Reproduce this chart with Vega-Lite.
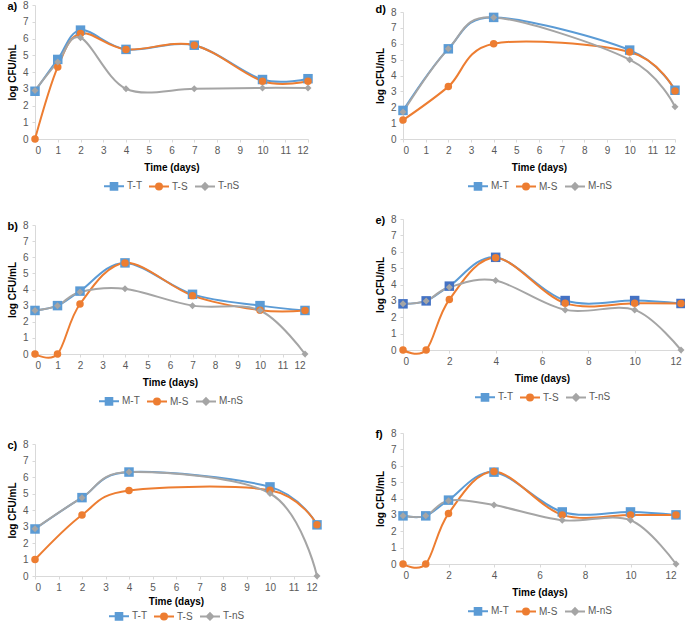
{
  "$schema": "https://vega.github.io/schema/vega-lite/v6.json",
  "background": "white",
  "padding": {"left": 7, "top": 0, "right": 0, "bottom": 0},
  "datasets": {
    "cfu": [
      {"panel": "a", "series": "T-T", "day": 0, "cfu": 2.85},
      {"panel": "a", "series": "T-T", "day": 1, "cfu": 4.75},
      {"panel": "a", "series": "T-T", "day": 2, "cfu": 6.5},
      {"panel": "a", "series": "T-T", "day": 4, "cfu": 5.35},
      {"panel": "a", "series": "T-T", "day": 7, "cfu": 5.6},
      {"panel": "a", "series": "T-T", "day": 10, "cfu": 3.55},
      {"panel": "a", "series": "T-T", "day": 12, "cfu": 3.6},
      {"panel": "a", "series": "T-S", "day": 0, "cfu": 0},
      {"panel": "a", "series": "T-S", "day": 1, "cfu": 4.3},
      {"panel": "a", "series": "T-S", "day": 2, "cfu": 6.3},
      {"panel": "a", "series": "T-S", "day": 4, "cfu": 5.35},
      {"panel": "a", "series": "T-S", "day": 7, "cfu": 5.6},
      {"panel": "a", "series": "T-S", "day": 10, "cfu": 3.45},
      {"panel": "a", "series": "T-S", "day": 12, "cfu": 3.45},
      {"panel": "a", "series": "T-nS", "day": 0, "cfu": 2.9},
      {"panel": "a", "series": "T-nS", "day": 1, "cfu": 4.6},
      {"panel": "a", "series": "T-nS", "day": 2, "cfu": 6.05},
      {"panel": "a", "series": "T-nS", "day": 4, "cfu": 3.0},
      {"panel": "a", "series": "T-nS", "day": 7, "cfu": 3.0},
      {"panel": "a", "series": "T-nS", "day": 10, "cfu": 3.05},
      {"panel": "a", "series": "T-nS", "day": 12, "cfu": 3.05},

      {"panel": "b", "series": "M-T", "day": 0, "cfu": 2.7},
      {"panel": "b", "series": "M-T", "day": 1, "cfu": 3.0},
      {"panel": "b", "series": "M-T", "day": 2, "cfu": 3.9},
      {"panel": "b", "series": "M-T", "day": 4, "cfu": 5.65},
      {"panel": "b", "series": "M-T", "day": 7, "cfu": 3.7},
      {"panel": "b", "series": "M-T", "day": 10, "cfu": 3.0},
      {"panel": "b", "series": "M-T", "day": 12, "cfu": 2.7},
      {"panel": "b", "series": "M-S", "day": 0, "cfu": 0},
      {"panel": "b", "series": "M-S", "day": 1, "cfu": 0},
      {"panel": "b", "series": "M-S", "day": 2, "cfu": 3.1},
      {"panel": "b", "series": "M-S", "day": 4, "cfu": 5.65},
      {"panel": "b", "series": "M-S", "day": 7, "cfu": 3.62},
      {"panel": "b", "series": "M-S", "day": 10, "cfu": 2.72},
      {"panel": "b", "series": "M-S", "day": 12, "cfu": 2.7},
      {"panel": "b", "series": "M-nS", "day": 0, "cfu": 2.7},
      {"panel": "b", "series": "M-nS", "day": 1, "cfu": 3.0},
      {"panel": "b", "series": "M-nS", "day": 2, "cfu": 3.85},
      {"panel": "b", "series": "M-nS", "day": 4, "cfu": 4.05},
      {"panel": "b", "series": "M-nS", "day": 7, "cfu": 3.0},
      {"panel": "b", "series": "M-nS", "day": 10, "cfu": 2.7},
      {"panel": "b", "series": "M-nS", "day": 12, "cfu": 0},

      {"panel": "c", "series": "T-T", "day": 0, "cfu": 2.85},
      {"panel": "c", "series": "T-T", "day": 2, "cfu": 4.75},
      {"panel": "c", "series": "T-T", "day": 4, "cfu": 6.3},
      {"panel": "c", "series": "T-T", "day": 10, "cfu": 5.4},
      {"panel": "c", "series": "T-T", "day": 12, "cfu": 3.1},
      {"panel": "c", "series": "T-S", "day": 0, "cfu": 1.0},
      {"panel": "c", "series": "T-S", "day": 2, "cfu": 3.7},
      {"panel": "c", "series": "T-S", "day": 4, "cfu": 5.18},
      {"panel": "c", "series": "T-S", "day": 10, "cfu": 5.2},
      {"panel": "c", "series": "T-S", "day": 12, "cfu": 3.1},
      {"panel": "c", "series": "T-nS", "day": 0, "cfu": 2.87},
      {"panel": "c", "series": "T-nS", "day": 2, "cfu": 4.75},
      {"panel": "c", "series": "T-nS", "day": 4, "cfu": 6.3},
      {"panel": "c", "series": "T-nS", "day": 10, "cfu": 5.0},
      {"panel": "c", "series": "T-nS", "day": 12, "cfu": 0},

      {"panel": "d", "series": "M-T", "day": 0, "cfu": 1.8},
      {"panel": "d", "series": "M-T", "day": 2, "cfu": 5.68},
      {"panel": "d", "series": "M-T", "day": 4, "cfu": 7.66},
      {"panel": "d", "series": "M-T", "day": 10, "cfu": 5.6},
      {"panel": "d", "series": "M-T", "day": 12, "cfu": 3.07},
      {"panel": "d", "series": "M-S", "day": 0, "cfu": 1.19},
      {"panel": "d", "series": "M-S", "day": 2, "cfu": 3.3},
      {"panel": "d", "series": "M-S", "day": 4, "cfu": 6.0},
      {"panel": "d", "series": "M-S", "day": 10, "cfu": 5.48},
      {"panel": "d", "series": "M-S", "day": 12, "cfu": 3.03},
      {"panel": "d", "series": "M-nS", "day": 0, "cfu": 1.7},
      {"panel": "d", "series": "M-nS", "day": 2, "cfu": 5.68},
      {"panel": "d", "series": "M-nS", "day": 4, "cfu": 7.66},
      {"panel": "d", "series": "M-nS", "day": 10, "cfu": 5.0},
      {"panel": "d", "series": "M-nS", "day": 12, "cfu": 2.03},

      {"panel": "e", "series": "T-T", "day": 0, "cfu": 2.82},
      {"panel": "e", "series": "T-T", "day": 1, "cfu": 3.0},
      {"panel": "e", "series": "T-T", "day": 2, "cfu": 3.9},
      {"panel": "e", "series": "T-T", "day": 4, "cfu": 5.66},
      {"panel": "e", "series": "T-T", "day": 7, "cfu": 3.02},
      {"panel": "e", "series": "T-T", "day": 10, "cfu": 3.02},
      {"panel": "e", "series": "T-T", "day": 12, "cfu": 2.84},
      {"panel": "e", "series": "T-S", "day": 0, "cfu": 0},
      {"panel": "e", "series": "T-S", "day": 1, "cfu": 0},
      {"panel": "e", "series": "T-S", "day": 2, "cfu": 3.08},
      {"panel": "e", "series": "T-S", "day": 4, "cfu": 5.63},
      {"panel": "e", "series": "T-S", "day": 7, "cfu": 2.86},
      {"panel": "e", "series": "T-S", "day": 10, "cfu": 2.86},
      {"panel": "e", "series": "T-S", "day": 12, "cfu": 2.84},
      {"panel": "e", "series": "T-nS", "day": 0, "cfu": 2.82},
      {"panel": "e", "series": "T-nS", "day": 1, "cfu": 3.0},
      {"panel": "e", "series": "T-nS", "day": 2, "cfu": 3.83},
      {"panel": "e", "series": "T-nS", "day": 4, "cfu": 4.24},
      {"panel": "e", "series": "T-nS", "day": 7, "cfu": 2.45},
      {"panel": "e", "series": "T-nS", "day": 10, "cfu": 2.45},
      {"panel": "e", "series": "T-nS", "day": 12, "cfu": 0},

      {"panel": "f", "series": "M-T", "day": 0, "cfu": 2.94},
      {"panel": "f", "series": "M-T", "day": 1, "cfu": 2.94},
      {"panel": "f", "series": "M-T", "day": 2, "cfu": 3.9},
      {"panel": "f", "series": "M-T", "day": 4, "cfu": 5.61},
      {"panel": "f", "series": "M-T", "day": 7, "cfu": 3.18},
      {"panel": "f", "series": "M-T", "day": 10, "cfu": 3.18},
      {"panel": "f", "series": "M-T", "day": 12, "cfu": 3.0},
      {"panel": "f", "series": "M-S", "day": 0, "cfu": 0},
      {"panel": "f", "series": "M-S", "day": 1, "cfu": 0},
      {"panel": "f", "series": "M-S", "day": 2, "cfu": 3.08},
      {"panel": "f", "series": "M-S", "day": 4, "cfu": 5.65},
      {"panel": "f", "series": "M-S", "day": 7, "cfu": 3.0},
      {"panel": "f", "series": "M-S", "day": 10, "cfu": 3.0},
      {"panel": "f", "series": "M-S", "day": 12, "cfu": 3.0},
      {"panel": "f", "series": "M-nS", "day": 0, "cfu": 2.94},
      {"panel": "f", "series": "M-nS", "day": 1, "cfu": 2.94},
      {"panel": "f", "series": "M-nS", "day": 2, "cfu": 3.87},
      {"panel": "f", "series": "M-nS", "day": 4, "cfu": 3.6},
      {"panel": "f", "series": "M-nS", "day": 7, "cfu": 2.67},
      {"panel": "f", "series": "M-nS", "day": 10, "cfu": 2.67},
      {"panel": "f", "series": "M-nS", "day": 12, "cfu": 0}
    ]
  },
  "hconcat": [
    {
      "spacing": 26,
      "resolve": {"scale": {"color": "independent"}, "legend": {"color": "independent"}},
      "vconcat": [
        {
          "width": 273, "height": 134,
          "title": {"text": "a)", "dy": 16},
          "data": {"name": "cfu"},
          "transform": [{"filter": "datum.panel === 'a'"}],
          "encoding": {
            "x": {"field": "day", "type": "quantitative", "title": "Time (days)", "scale": {"domain": [0, 12], "nice": false}, "axis": {"values": [0, 1, 2, 3, 4, 5, 6, 7, 8, 9, 10, 11, 12]}},
            "y": {"field": "cfu", "type": "quantitative", "title": "log CFU/mL", "scale": {"domain": [0, 8], "nice": false}, "axis": {"values": [0, 1, 2, 3, 4, 5, 6, 7, 8]}},
            "color": {"field": "series", "type": "nominal", "scale": {"domain": ["T-T", "T-S", "T-nS"], "range": ["#5B9BD5", "#ED7D31", "#A5A5A5"]},
              "legend": {"title": null, "encode": {"symbols": {"update": {
                "shape": {"signal": "slice(datum.value, 2) === 'T' ? 'M-1,0H1M-0.33,-0.33H0.33V0.33H-0.33Z' : slice(datum.value, 2) === 'S' ? 'M-1,0H1M0.3,0A0.3,0.3,0,1,1,-0.3,0A0.3,0.3,0,1,1,0.3,0Z' : 'M-1,0H1M0,-0.32L0.32,0L0,0.32L-0.32,0Z'"},
                "fill": {"signal": "slice(datum.value, 2) === 'T' ? '#5B9BD5' : slice(datum.value, 2) === 'S' ? '#ED7D31' : '#A5A5A5'"},
                "stroke": {"signal": "slice(datum.value, 2) === 'T' ? '#5B9BD5' : slice(datum.value, 2) === 'S' ? '#ED7D31' : '#A5A5A5'"},
                "strokeWidth": {"value": 2}, "size": {"value": 400}, "opacity": {"value": 1}}}}}}
          },
          "layer": [
            {"mark": {"type": "line", "interpolate": "cardinal", "strokeWidth": 2}},
            {"transform": [{"filter": "datum.series === 'T-T'"}], "mark": {"type": "point", "shape": "square", "size": 90, "filled": true, "opacity": 1}},
            {"transform": [{"filter": "datum.series === 'T-S'"}], "mark": {"type": "point", "shape": "circle", "size": 56, "filled": true, "opacity": 1}},
            {"transform": [{"filter": "datum.series === 'T-nS'"}], "mark": {"type": "point", "shape": "diamond", "size": 49, "filled": true, "opacity": 1}}
          ]
        },
        {
          "spacing": 30,
          "resolve": {"scale": {"color": "independent"}, "legend": {"color": "independent"}},
          "vconcat": [
            {
              "width": 270, "height": 129,
              "title": {"text": "b)", "dy": 16},
              "data": {"name": "cfu"},
              "transform": [{"filter": "datum.panel === 'b'"}],
              "encoding": {
                "x": {"field": "day", "type": "quantitative", "title": "Time (days)", "scale": {"domain": [0, 12], "nice": false}, "axis": {"values": [0, 1, 2, 3, 4, 5, 6, 7, 8, 9, 10, 11, 12]}},
                "y": {"field": "cfu", "type": "quantitative", "title": "log CFU/mL", "scale": {"domain": [0, 8], "nice": false}, "axis": {"values": [0, 1, 2, 3, 4, 5, 6, 7, 8]}},
                "color": {"field": "series", "type": "nominal", "scale": {"domain": ["M-T", "M-S", "M-nS"], "range": ["#5B9BD5", "#ED7D31", "#A5A5A5"]},
                  "legend": {"title": null, "encode": {"symbols": {"update": {
                    "shape": {"signal": "slice(datum.value, 2) === 'T' ? 'M-1,0H1M-0.33,-0.33H0.33V0.33H-0.33Z' : slice(datum.value, 2) === 'S' ? 'M-1,0H1M0.3,0A0.3,0.3,0,1,1,-0.3,0A0.3,0.3,0,1,1,0.3,0Z' : 'M-1,0H1M0,-0.32L0.32,0L0,0.32L-0.32,0Z'"},
                    "fill": {"signal": "slice(datum.value, 2) === 'T' ? '#5B9BD5' : slice(datum.value, 2) === 'S' ? '#ED7D31' : '#A5A5A5'"},
                    "stroke": {"signal": "slice(datum.value, 2) === 'T' ? '#5B9BD5' : slice(datum.value, 2) === 'S' ? '#ED7D31' : '#A5A5A5'"},
                    "strokeWidth": {"value": 2}, "size": {"value": 400}, "opacity": {"value": 1}}}}}}
              },
              "layer": [
                {"mark": {"type": "line", "interpolate": "cardinal", "strokeWidth": 2}},
                {"transform": [{"filter": "datum.series === 'M-T'"}], "mark": {"type": "point", "shape": "square", "size": 90, "filled": true, "opacity": 1}},
                {"transform": [{"filter": "datum.series === 'M-S'"}], "mark": {"type": "point", "shape": "circle", "size": 56, "filled": true, "opacity": 1}},
                {"transform": [{"filter": "datum.series === 'M-nS'"}], "mark": {"type": "point", "shape": "diamond", "size": 49, "filled": true, "opacity": 1}}
              ]
            },
            {
              "width": 282, "height": 132,
              "title": {"text": "c)", "dy": 16},
              "data": {"name": "cfu"},
              "transform": [{"filter": "datum.panel === 'c'"}],
              "encoding": {
                "x": {"field": "day", "type": "quantitative", "title": "Time (days)", "scale": {"domain": [0, 12], "nice": false}, "axis": {"values": [0, 1, 2, 3, 4, 5, 6, 7, 8, 9, 10, 11, 12], "titlePadding": 4}},
                "y": {"field": "cfu", "type": "quantitative", "title": "log CFU/mL", "scale": {"domain": [0, 8], "nice": false}, "axis": {"values": [0, 1, 2, 3, 4, 5, 6, 7, 8]}},
                "color": {"field": "series", "type": "nominal", "scale": {"domain": ["T-T", "T-S", "T-nS"], "range": ["#5B9BD5", "#ED7D31", "#A5A5A5"]},
                  "legend": {"title": null, "offset": -1, "encode": {"symbols": {"update": {
                    "shape": {"signal": "slice(datum.value, 2) === 'T' ? 'M-1,0H1M-0.33,-0.33H0.33V0.33H-0.33Z' : slice(datum.value, 2) === 'S' ? 'M-1,0H1M0.3,0A0.3,0.3,0,1,1,-0.3,0A0.3,0.3,0,1,1,0.3,0Z' : 'M-1,0H1M0,-0.32L0.32,0L0,0.32L-0.32,0Z'"},
                    "fill": {"signal": "slice(datum.value, 2) === 'T' ? '#5B9BD5' : slice(datum.value, 2) === 'S' ? '#ED7D31' : '#A5A5A5'"},
                    "stroke": {"signal": "slice(datum.value, 2) === 'T' ? '#5B9BD5' : slice(datum.value, 2) === 'S' ? '#ED7D31' : '#A5A5A5'"},
                    "strokeWidth": {"value": 2}, "size": {"value": 400}, "opacity": {"value": 1}}}}}}
              },
              "layer": [
                {"mark": {"type": "line", "interpolate": "cardinal", "strokeWidth": 2}},
                {"transform": [{"filter": "datum.series === 'T-T'"}], "mark": {"type": "point", "shape": "square", "size": 90, "filled": true, "opacity": 1}},
                {"transform": [{"filter": "datum.series === 'T-S'"}], "mark": {"type": "point", "shape": "circle", "size": 56, "filled": true, "opacity": 1}},
                {"transform": [{"filter": "datum.series === 'T-nS'"}], "mark": {"type": "point", "shape": "diamond", "size": 49, "filled": true, "opacity": 1}}
              ]
            }
          ]
        }
      ]
    },
    {
      "spacing": 20,
      "resolve": {"scale": {"color": "independent"}, "legend": {"color": "independent"}},
      "vconcat": [
        {
          "width": 272, "height": 134,
          "title": {"text": "d)", "dy": 14},
          "data": {"name": "cfu"},
          "transform": [{"filter": "datum.panel === 'd'"}],
          "encoding": {
            "x": {"field": "day", "type": "quantitative", "title": "Time (days)", "scale": {"domain": [0, 12], "nice": false}, "axis": {"values": [0, 1, 2, 3, 4, 5, 6, 7, 8, 9, 10, 11, 12]}},
            "y": {"field": "cfu", "type": "quantitative", "title": "log CFU/mL", "scale": {"domain": [0, 8], "nice": false, "range": [134, 7]}, "axis": {"values": [0, 1, 2, 3, 4, 5, 6, 7, 8]}},
            "color": {"field": "series", "type": "nominal", "scale": {"domain": ["M-T", "M-S", "M-nS"], "range": ["#5B9BD5", "#ED7D31", "#A5A5A5"]},
              "legend": {"title": null, "encode": {"symbols": {"update": {
                "shape": {"signal": "slice(datum.value, 2) === 'T' ? 'M-1,0H1M-0.33,-0.33H0.33V0.33H-0.33Z' : slice(datum.value, 2) === 'S' ? 'M-1,0H1M0.3,0A0.3,0.3,0,1,1,-0.3,0A0.3,0.3,0,1,1,0.3,0Z' : 'M-1,0H1M0,-0.32L0.32,0L0,0.32L-0.32,0Z'"},
                "fill": {"signal": "slice(datum.value, 2) === 'T' ? '#5B9BD5' : slice(datum.value, 2) === 'S' ? '#ED7D31' : '#A5A5A5'"},
                "stroke": {"signal": "slice(datum.value, 2) === 'T' ? '#5B9BD5' : slice(datum.value, 2) === 'S' ? '#ED7D31' : '#A5A5A5'"},
                "strokeWidth": {"value": 2}, "size": {"value": 400}, "opacity": {"value": 1}}}}}}
          },
          "layer": [
            {"mark": {"type": "line", "interpolate": "cardinal", "strokeWidth": 2}},
            {"transform": [{"filter": "datum.series === 'M-T'"}], "mark": {"type": "point", "shape": "square", "size": 90, "filled": true, "opacity": 1}},
            {"transform": [{"filter": "datum.series === 'M-S'"}], "mark": {"type": "point", "shape": "circle", "size": 56, "filled": true, "opacity": 1}},
            {"transform": [{"filter": "datum.series === 'M-nS'"}], "mark": {"type": "point", "shape": "diamond", "size": 49, "filled": true, "opacity": 1}}
          ]
        },
        {
          "spacing": 23,
          "resolve": {"scale": {"color": "independent"}, "legend": {"color": "independent"}},
          "vconcat": [
            {
              "width": 278, "height": 131,
              "title": {"text": "e)", "dy": 16},
              "data": {"name": "cfu"},
              "transform": [{"filter": "datum.panel === 'e'"}],
              "encoding": {
                "x": {"field": "day", "type": "quantitative", "title": "Time (days)", "scale": {"domain": [0, 12], "nice": false}, "axis": {"values": [0, 2, 4, 6, 8, 10, 12]}},
                "y": {"field": "cfu", "type": "quantitative", "title": "log CFU/mL", "scale": {"domain": [0, 8], "nice": false}, "axis": {"values": [0, 1, 2, 3, 4, 5, 6, 7, 8]}},
                "color": {"field": "series", "type": "nominal", "scale": {"domain": ["T-T", "T-S", "T-nS"], "range": ["#5B9BD5", "#ED7D31", "#A5A5A5"]},
                  "legend": {"title": null, "encode": {"symbols": {"update": {
                    "shape": {"signal": "slice(datum.value, 2) === 'T' ? 'M-1,0H1M-0.33,-0.33H0.33V0.33H-0.33Z' : slice(datum.value, 2) === 'S' ? 'M-1,0H1M0.3,0A0.3,0.3,0,1,1,-0.3,0A0.3,0.3,0,1,1,0.3,0Z' : 'M-1,0H1M0,-0.32L0.32,0L0,0.32L-0.32,0Z'"},
                    "fill": {"signal": "slice(datum.value, 2) === 'T' ? '#4472C4' : slice(datum.value, 2) === 'S' ? '#ED7D31' : '#A5A5A5'"},
                    "stroke": {"signal": "slice(datum.value, 2) === 'T' ? '#5B9BD5' : slice(datum.value, 2) === 'S' ? '#ED7D31' : '#A5A5A5'"},
                    "strokeWidth": {"value": 2}, "size": {"value": 400}, "opacity": {"value": 1}}}}}}
              },
              "layer": [
                {"mark": {"type": "line", "interpolate": "cardinal", "strokeWidth": 2}},
                {"transform": [{"filter": "datum.series === 'T-T'"}], "mark": {"type": "point", "shape": "square", "size": 90, "filled": true, "opacity": 1}, "encoding": {"color": {"value": "#4472C4"}}},
                {"transform": [{"filter": "datum.series === 'T-S'"}], "mark": {"type": "point", "shape": "circle", "size": 56, "filled": true, "opacity": 1}},
                {"transform": [{"filter": "datum.series === 'T-nS'"}], "mark": {"type": "point", "shape": "diamond", "size": 49, "filled": true, "opacity": 1}}
              ]
            },
            {
              "width": 273, "height": 131,
              "title": {"text": "f)", "dy": 16},
              "data": {"name": "cfu"},
              "transform": [{"filter": "datum.panel === 'f'"}],
              "encoding": {
                "x": {"field": "day", "type": "quantitative", "title": "Time (days)", "scale": {"domain": [0, 12], "nice": false}, "axis": {"values": [0, 2, 4, 6, 8, 10, 12]}},
                "y": {"field": "cfu", "type": "quantitative", "title": "log CFU/mL", "scale": {"domain": [0, 8], "nice": false}, "axis": {"values": [0, 1, 2, 3, 4, 5, 6, 7, 8]}},
                "color": {"field": "series", "type": "nominal", "scale": {"domain": ["M-T", "M-S", "M-nS"], "range": ["#5B9BD5", "#ED7D31", "#A5A5A5"]},
                  "legend": {"title": null, "encode": {"symbols": {"update": {
                    "shape": {"signal": "slice(datum.value, 2) === 'T' ? 'M-1,0H1M-0.33,-0.33H0.33V0.33H-0.33Z' : slice(datum.value, 2) === 'S' ? 'M-1,0H1M0.3,0A0.3,0.3,0,1,1,-0.3,0A0.3,0.3,0,1,1,0.3,0Z' : 'M-1,0H1M0,-0.32L0.32,0L0,0.32L-0.32,0Z'"},
                    "fill": {"signal": "slice(datum.value, 2) === 'T' ? '#5B9BD5' : slice(datum.value, 2) === 'S' ? '#ED7D31' : '#A5A5A5'"},
                    "stroke": {"signal": "slice(datum.value, 2) === 'T' ? '#5B9BD5' : slice(datum.value, 2) === 'S' ? '#ED7D31' : '#A5A5A5'"},
                    "strokeWidth": {"value": 2}, "size": {"value": 400}, "opacity": {"value": 1}}}}}}
              },
              "layer": [
                {"mark": {"type": "line", "interpolate": "cardinal", "strokeWidth": 2}},
                {"transform": [{"filter": "datum.series === 'M-T'"}], "mark": {"type": "point", "shape": "square", "size": 90, "filled": true, "opacity": 1}},
                {"transform": [{"filter": "datum.series === 'M-S'"}], "mark": {"type": "point", "shape": "circle", "size": 56, "filled": true, "opacity": 1}},
                {"transform": [{"filter": "datum.series === 'M-nS'"}], "mark": {"type": "point", "shape": "diamond", "size": 49, "filled": true, "opacity": 1}}
              ]
            }
          ]
        }
      ]
    }
  ],
  "spacing": 53,
  "resolve": {"scale": {"color": "independent"}, "legend": {"color": "independent"}},
  "config": {
    "view": {"stroke": null},
    "font": "Liberation Sans",
    "axis": {
      "labelFont": "Liberation Sans", "labelFontSize": 10, "labelColor": "#595959",
      "titleFont": "Liberation Sans", "titleFontSize": 10, "titleFontWeight": "bold", "titleColor": "#000000",
      "domainColor": "#D9D9D9", "tickColor": "#D9D9D9", "tickSize": 3, "grid": false,
      "labelPadding": 3, "titlePadding": 5
    },
    "axisX": {"titlePadding": 7},
    "axisY": {"labelPadding": 4},
    "legend": {
      "orient": "bottom", "direction": "horizontal",
      "labelFont": "Liberation Sans", "labelFontSize": 10, "labelColor": "#595959",
      "symbolSize": 400, "labelOffset": 2, "columnPadding": 3, "offset": 3, "padding": 0,
      "layout": {"bottom": {"anchor": "middle"}}
    },
    "title": {"anchor": "start", "frame": "bounds", "baseline": "bottom", "offset": 0, "font": "Liberation Sans", "fontSize": 11, "fontWeight": "bold", "color": "#000000"}
  }
}
